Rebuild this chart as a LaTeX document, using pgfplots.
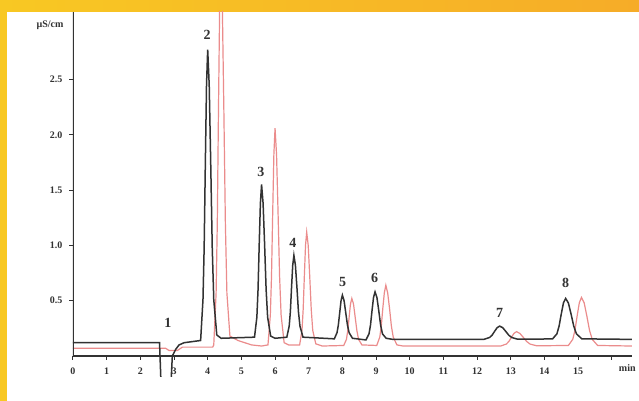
\documentclass[border=0pt]{standalone}
\usepackage{fontspec}
\setmainfont{Liberation Serif}
\usepackage{pgfplots}
\pgfplotsset{compat=1.18}

\definecolor{trace}{RGB}{50,50,50}
\definecolor{pinkred}{RGB}{235,140,140}
\definecolor{goldL}{RGB}{248,200,35}
\definecolor{goldR}{RGB}{246,172,40}

\begin{document}
\begin{tikzpicture}
% yellow frame and white panel (1px = 0.5pt, origin at axis corner)
\shade[left color=goldL, right color=goldR] (-36.5pt,-12pt) rectangle (283pt,188.5pt);
\fill[white] (-33pt,-12pt) rectangle (283pt,182.5pt);

\begin{axis}[
  scale only axis,
  width=279.5pt, height=182.5pt,
  xmin=0, xmax=16.6, ymin=-0.19, ymax=3.11,
  axis x line=middle, axis y line=left,
  x axis line style={-, draw=trace, line width=0.6pt},
  y axis line style={draw=none},
  hide obscured x ticks=false,
  xtick={0,1,...,16},
  xticklabels={0,1,2,3,4,5,6,7,8,9,10,11,12,13,14,15,{}},
  ytick={0.5,1.0,1.5,2.0,2.5},
  yticklabel style={/pgf/number format/.cd, fixed, fixed zerofill, precision=1},
  /pgf/number format/assume math mode=true,
  tick align=outside,
  major tick length=1.8pt,
  tick style={draw=trace, line width=0.5pt},
  ticklabel style={font=\fontsize{5}{6}\selectfont\bfseries, text=trace},
  xticklabel style={yshift=-0.5pt},
  clip=true,
]
% red trace
\addplot[pinkred, line width=0.6pt] coordinates {
 (0,0.07) (2.75,0.07) (2.85,0.05) (3.1,0.05) (3.25,0.08) (4.15,0.08)
 (4.18,0.10) (4.25,0.57) (4.285,1.20) (4.32,2.22) (4.355,3.16) (4.39,3.58)
 (4.435,3.16) (4.48,2.22) (4.525,1.20) (4.57,0.57) (4.66,0.18) (4.9,0.14)
 (5.3,0.10) (5.6,0.09)
 (5.79,0.10) (5.86,0.37) (5.895,0.72) (5.93,1.29) (5.965,1.82) (6.0,2.06)
 (6.045,1.82) (6.09,1.29) (6.135,0.72) (6.18,0.37) (6.27,0.12) (6.4,0.10)
 (6.73,0.10) (6.80,0.23) (6.835,0.42) (6.87,0.72) (6.905,1.00) (6.94,1.12)
 (6.985,1.00) (7.03,0.72) (7.075,0.42) (7.12,0.23) (7.21,0.11) (7.4,0.09)
 (8.04,0.095) (8.12,0.15) (8.16,0.23) (8.20,0.35) (8.24,0.47) (8.28,0.52)
 (8.33,0.47) (8.38,0.35) (8.43,0.23) (8.48,0.15) (8.58,0.10)
 (9.02,0.095) (9.11,0.17) (9.155,0.27) (9.20,0.43) (9.245,0.57) (9.29,0.64)
 (9.345,0.57) (9.40,0.43) (9.455,0.27) (9.51,0.17) (9.62,0.10) (9.8,0.09)
 (12.7,0.09) (12.87,0.108) (12.945,0.132) (13.02,0.169) (13.095,0.204) (13.17,0.22)
 (13.27,0.204) (13.37,0.169) (13.47,0.132) (13.57,0.108) (13.77,0.092)
 (14.71,0.095) (14.84,0.15) (14.905,0.23) (14.97,0.36) (15.035,0.48) (15.1,0.53)
 (15.18,0.48) (15.26,0.36) (15.34,0.23) (15.42,0.15) (15.58,0.095) (16.6,0.09)
};
% black trace
\addplot[trace, line width=0.75pt] coordinates {
 (0,0.12) (2.57,0.12) (2.62,-0.3) (2.9,-0.3) (2.95,0.0) (3.05,0.06)
 (3.15,0.10) (3.3,0.12) (3.79,0.14)
 (3.86,0.51) (3.895,0.98) (3.93,1.74) (3.965,2.45) (4.0,2.77)
 (4.045,2.45) (4.09,1.74) (4.135,0.98) (4.18,0.51) (4.27,0.19) (4.4,0.16)
 (5.39,0.17) (5.46,0.35) (5.495,0.60) (5.53,1.01) (5.565,1.38) (5.6,1.55)
 (5.645,1.38) (5.69,1.01) (5.735,0.60) (5.78,0.35) (5.87,0.18) (6.0,0.16)
 (6.35,0.17) (6.42,0.27) (6.455,0.40) (6.49,0.62) (6.525,0.82) (6.56,0.91)
 (6.605,0.82) (6.65,0.62) (6.695,0.40) (6.74,0.27) (6.83,0.17)
 (7.76,0.155) (7.84,0.21) (7.88,0.28) (7.92,0.39) (7.96,0.50) (8.0,0.55)
 (8.05,0.50) (8.10,0.39) (8.15,0.28) (8.20,0.21) (8.30,0.16)
 (8.70,0.145) (8.79,0.20) (8.835,0.28) (8.88,0.41) (8.925,0.53) (8.97,0.58)
 (9.025,0.53) (9.08,0.41) (9.135,0.28) (9.19,0.20) (9.30,0.16) (9.5,0.15)
 (12.2,0.15) (12.37,0.167) (12.445,0.188) (12.52,0.223) (12.595,0.256) (12.67,0.27)
 (12.76,0.256) (12.85,0.223) (12.94,0.188) (13.03,0.167) (13.2,0.152)
 (14.24,0.154) (14.37,0.20) (14.435,0.27) (14.50,0.38) (14.565,0.48) (14.63,0.52)
 (14.71,0.48) (14.79,0.38) (14.87,0.27) (14.95,0.20) (15.11,0.155) (16.6,0.15)
};
% y axis line from the x axis upwards
\draw[trace, line width=0.6pt] (axis cs:0,0) -- (axis cs:0,3.11);
% peak numbers
\begin{scope}[every node/.style={font=\fontsize{7}{8}\selectfont\bfseries, text=trace}]
\node at (axis cs:2.82,0.30) {1};
\node at (axis cs:3.98,2.90) {2};
\node at (axis cs:5.58,1.66) {3};
\node at (axis cs:6.53,1.02) {4};
\node at (axis cs:8.01,0.67) {5};
\node at (axis cs:8.96,0.71) {6};
\node at (axis cs:12.67,0.39) {7};
\node at (axis cs:14.63,0.66) {8};
\end{scope}
\end{axis}
\node[font=\fontsize{5}{6}\selectfont\bfseries, text=trace] at (-11.5pt,176pt) {µS/cm};
\node[font=\fontsize{5}{6}\selectfont\bfseries, text=trace, anchor=east, inner sep=1pt] at (282.5pt,4.5pt) {min};
\pgfresetboundingbox
\path (-36.5pt,-12pt) rectangle (283pt,188.5pt);
\end{tikzpicture}
\end{document}
